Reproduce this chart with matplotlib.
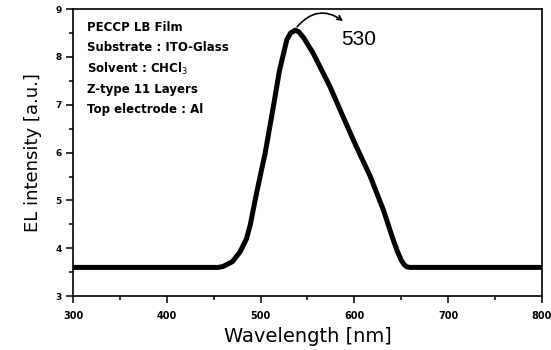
import matplotlib.pyplot as plt
from matplotlib.ticker import MultipleLocator

# EL spectrum
wavelength = [300, 400, 455, 460, 470, 478, 485, 489, 496, 505, 514, 520, 528,
              532, 537, 541, 546, 551, 556, 565, 574, 588, 602, 617, 631, 641,
              646, 650, 653, 656, 660, 700, 800]
intensity = [3.6, 3.6, 3.6, 3.62, 3.72, 3.92, 4.2, 4.49, 5.18, 6.0, 7.0, 7.7, 8.36,
             8.5, 8.56, 8.52, 8.4, 8.24, 8.08, 7.73, 7.38, 6.75, 6.13, 5.5, 4.8, 4.2,
             3.93, 3.75, 3.66, 3.61, 3.6, 3.6, 3.6]
info_lines = ["PECCP LB Film", "Substrate : ITO-Glass", "Solvent : CHCl$_3$",
              "Z-type 11 Layers", "Top electrode : Al"]
peak_label = "530"

fig = plt.figure(figsize=(5.51, 3.5), dpi=100)
ax = fig.add_axes([0.1325, 0.154, 0.851, 0.82])

ax.plot(wavelength, intensity, color="black", lw=3.6, solid_capstyle="round",
        solid_joinstyle="round")

ax.set_xlim(300, 800)
ax.set_ylim(3, 9)
ax.xaxis.set_major_locator(MultipleLocator(100))
ax.xaxis.set_minor_locator(MultipleLocator(50))
ax.yaxis.set_major_locator(MultipleLocator(1))
ax.yaxis.set_minor_locator(MultipleLocator(0.5))
ax.tick_params(which="both", direction="out", top=False, right=False, width=1.1)
ax.tick_params(which="major", length=5)
ax.tick_params(which="minor", length=3)
ax.tick_params(axis="x", labelsize=7, pad=6)
ax.tick_params(axis="y", labelsize=6.5, pad=3)
for lab in ax.get_xticklabels() + ax.get_yticklabels():
    lab.set_fontweight("bold")
for sp in ax.spines.values():
    sp.set_linewidth(1.2)

ax.set_xlabel("Wavelength [nm]", fontsize=14, labelpad=4)
ax.set_ylabel("EL intensity [a.u.]", fontsize=13, labelpad=10)

for i, line in enumerate(info_lines):
    ax.text(0.03, 0.937 - i * 0.072, line, transform=ax.transAxes,
            fontsize=8.5, fontweight="bold", va="center", ha="left")

# curved arrow from the peak to the label
ax.annotate("", xy=(588, 8.75), xytext=(539, 8.63),
            arrowprops=dict(arrowstyle="->", lw=1.2, color="black",
                            connectionstyle="arc3,rad=-0.45",
                            shrinkA=0, shrinkB=0, mutation_scale=8))
ax.text(605, 8.36, peak_label, fontsize=15, family="Liberation Sans",
        ha="center", va="center")

fig.savefig("out.png", dpi=100)
